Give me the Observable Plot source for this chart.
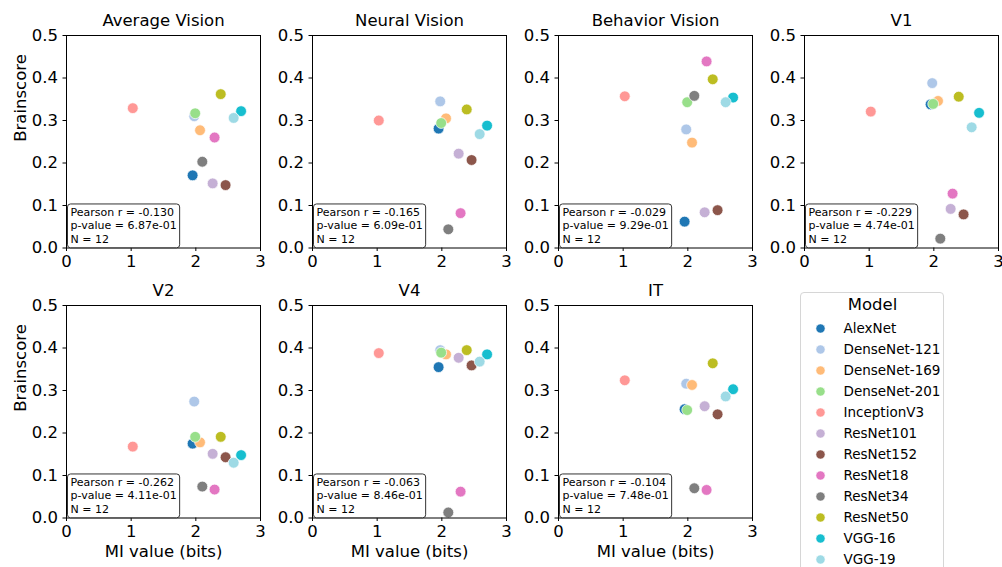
<!DOCTYPE html>
<html><head><meta charset="utf-8">
<script src="https://cdn.jsdelivr.net/npm/d3@7"></script>
<script src="https://cdn.jsdelivr.net/npm/@observablehq/plot@0.6"></script>
<style>
html,body{margin:0;padding:0;background:#fff;}
body{width:1002px;height:567px;overflow:hidden;position:relative;font-family:"DejaVu Sans",sans-serif;}
.panel{position:absolute;}
#legend{position:absolute;left:800px;top:292px;width:142px;height:283px;border:1px solid #d6d6d6;border-radius:4px;background:#fff;}
</style></head><body>
<div id="root"></div>
<script>
const models = ["AlexNet","DenseNet-121","DenseNet-169","DenseNet-201","InceptionV3","ResNet101","ResNet152","ResNet18","ResNet34","ResNet50","VGG-16","VGG-19"];
const colors = ["#1f77b4","#aec7e8","#ffbb78","#98df8a","#ff9896","#c5b0d5","#8c564b","#e377c2","#7f7f7f","#bcbd22","#17becf","#9edae5"];
const miValues = [1.95,1.975,2.065,1.99,1.025,2.26,2.46,2.29,2.10,2.385,2.70,2.585];

const titles = ["Average Vision","Neural Vision","Behavior Vision","V1","V2","V4","IT"];
const avgVision      = [0.171,0.310,0.277,0.317,0.329,0.152,0.148,0.260,0.203,0.362,0.322,0.306];
const neuralVision   = [0.281,0.345,0.305,0.294,0.300,0.222,0.207,0.082,0.044,0.326,0.288,0.268];
const behaviorVision = [0.062,0.279,0.248,0.343,0.357,0.084,0.089,0.439,0.358,0.397,0.354,0.343];
const v1Scores       = [0.338,0.388,0.346,0.339,0.321,0.092,0.079,0.128,0.022,0.356,0.318,0.284];
const v2Scores       = [0.175,0.274,0.178,0.191,0.168,0.151,0.143,0.067,0.074,0.191,0.148,0.130];
const v4Scores       = [0.355,0.395,0.385,0.389,0.388,0.377,0.359,0.062,0.013,0.395,0.385,0.368];
const itScores       = [0.256,0.316,0.313,0.254,0.324,0.263,0.244,0.066,0.070,0.364,0.303,0.286];
const pearsonR = ["-0.130","-0.165","-0.029","-0.229","-0.262","-0.063","-0.104"];
const pValues  = ["6.87e-01","6.09e-01","9.29e-01","4.74e-01","4.11e-01","8.46e-01","7.48e-01"];
const nValues  = [12,12,12,12,12,12,12];
const xTicks = [0,1,2,3];
const yTicks = [0,0.1,0.2,0.3,0.4,0.5];

const scores = [avgVision, neuralVision, behaviorVision, v1Scores, v2Scores, v4Scores, itScores];
const root = document.getElementById("root");
const FS = 16.5;

titles.forEach((title, i) => {
  const col = i % 4, row = Math.floor(i / 4);
  const data = models.map((m, j) => ({model: m, mi: miValues[j], score: scores[i][j]}));
  const stat = `Pearson r = ${pearsonR[i]}\np-value = ${pValues[i]}\nN = ${nValues[i]}`;
  const marks = [
    Plot.axisX({ticks: xTicks, tickFormat: d => String(d), tickSize: 3.5, tickPadding: 4, fontSize: FS, label: null}),
    Plot.axisY({ticks: yTicks, tickFormat: ".1f", tickSize: 3.5, tickPadding: 5, fontSize: FS, label: null}),
    Plot.dot(data, {x: "mi", y: "score", fill: "model", r: 5.4, stroke: "white", strokeWidth: 0.7}),
    Plot.frame({stroke: "black", strokeWidth: 1}),
    Plot.text([title], {text: d => d, frameAnchor: "top", dy: -15, fontSize: FS, lineAnchor: "middle"}),
    Plot.text([stat], {text: d => d, frameAnchor: "bottom-left", dx: 4, dy: -5.2, lineAnchor: "bottom", textAnchor: "start", fontSize: 11, lineHeight: 1.22, className: "stats"})
  ];
  if (col === 0) marks.push(Plot.text(["Brainscore"], {text: d => d, frameAnchor: "left", rotate: -90, dx: -46, fontSize: FS}));
  if (row === 1) marks.push(Plot.text(["MI value (bits)"], {text: d => d, frameAnchor: "bottom", dy: 33.5, fontSize: FS, lineAnchor: "middle"}));
  const chart = Plot.plot({
    width: 256, height: 298,
    marginLeft: 60, marginRight: 2, marginTop: 35, marginBottom: 50.5,
    x: {domain: [0, 3]},
    y: {domain: [0, 0.5]},
    color: {domain: models, range: colors},
    style: {background: "transparent", overflow: "visible", fontFamily: "DejaVu Sans", color: "black"},
    marks
  });
  chart.classList.add("panel");
  chart.style.left = (6 + 246.1 * col) + "px";
  chart.style.top = (row * 270) + "px";
  root.appendChild(chart);
  // rounded box behind the stats annotation
  const g = chart.querySelector("g.stats");
  if (g) {
    const bb = g.getBBox();
    const pad = 3;
    const rect = document.createElementNS("http://www.w3.org/2000/svg", "rect");
    rect.setAttribute("x", bb.x - pad);
    rect.setAttribute("y", bb.y - pad + 1);
    rect.setAttribute("width", bb.width + 2 * pad);
    rect.setAttribute("height", bb.height + 2 * pad - 2);
    rect.setAttribute("rx", 3);
    rect.setAttribute("fill", "white");
    rect.setAttribute("fill-opacity", 0.8);
    rect.setAttribute("stroke", "#333");
    rect.setAttribute("stroke-width", 1);
    g.insertBefore(rect, g.firstChild);
  }
});

// Legend
const legendDiv = document.createElement("div");
legendDiv.id = "legend";
root.appendChild(legendDiv);
const legend = Plot.plot({
  width: 142, height: 283,
  marginTop: 33.7, marginBottom: 16.7, marginLeft: 0, marginRight: 0,
  x: {domain: [0, 1], axis: null},
  y: {type: "point", domain: models, padding: 0, axis: null},
  color: {domain: models, range: colors},
  style: {background: "transparent", overflow: "visible", fontFamily: "DejaVu Sans", color: "black"},
  marks: [
    Plot.dot(models, {y: d => d, fill: d => d, frameAnchor: "left", dx: 19, r: 4.6, stroke: "white", strokeWidth: 0.6}),
    Plot.text(models, {y: d => d, text: d => d, frameAnchor: "left", dx: 42, textAnchor: "start", fontSize: 13.5}),
    Plot.text(["Model"], {text: d => d, frameAnchor: "top", dy: -22.7, fontSize: FS, lineAnchor: "middle"})
  ]
});
legendDiv.appendChild(legend);
</script>
</body></html>
